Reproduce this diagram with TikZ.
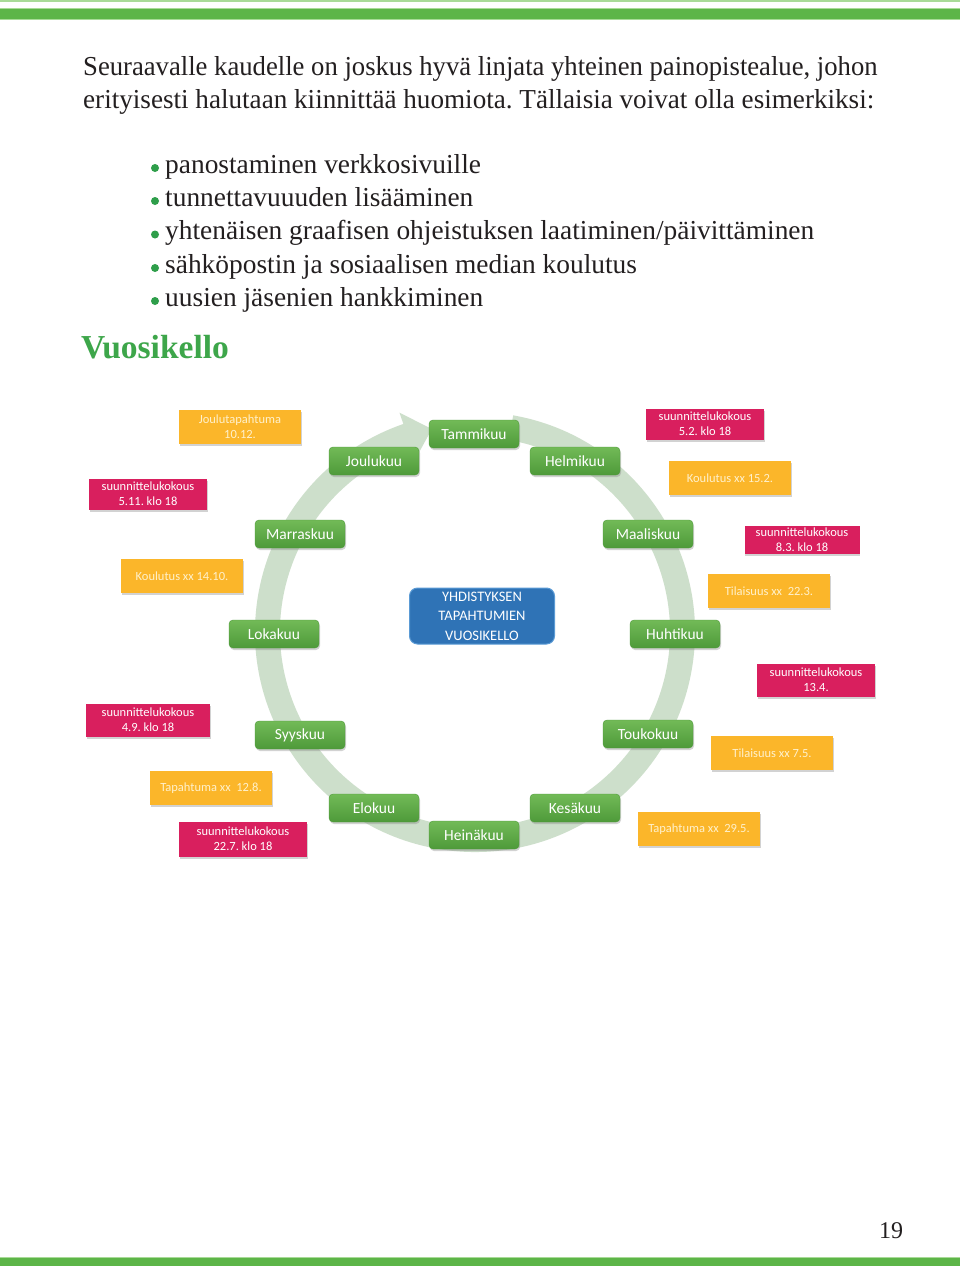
\documentclass[tikz,border=0pt]{standalone}
\usepackage{fontspec}
\setmainfont{Liberation Serif}
\newfontfamily\carl{Carlito}
\usetikzlibrary{calc,shadows}
\frenchspacing
\definecolor{bargreen}{HTML}{5DB548}
\definecolor{barlight}{HTML}{A9DB98}
\definecolor{titlegreen}{HTML}{3DA64A}
\definecolor{dotgreen}{HTML}{2E9E4A}
\definecolor{ringc}{HTML}{CDDFCB}
\definecolor{mgA}{HTML}{72BA57}
\definecolor{mgB}{HTML}{4E9A3A}
\definecolor{blueA}{HTML}{2F73B6}
\definecolor{blueB}{HTML}{5B9BD5}
\definecolor{pinkc}{HTML}{D91F5E}
\definecolor{orangec}{HTML}{FBB62A}
\definecolor{creamc}{HTML}{FFF1CC}
\definecolor{textc}{HTML}{231F20}
\begin{document}
\begin{tikzpicture}[x=1pt,y=1pt,
  bodytext/.style={anchor=base west, inner sep=0pt, text=textc, font=\fontsize{27.4}{33}\selectfont},
  bulletdot/.style={circle, fill=dotgreen, inner sep=0pt, minimum size=8pt},
  month/.style={rounded corners=4pt, top color=mgA, bottom color=mgB, draw=mgB,
    minimum width=90pt, minimum height=28pt, inner sep=0pt, text=white,
    font=\carl\fontsize{15.5}{18}\selectfont,
    drop shadow={shadow xshift=1pt, shadow yshift=-2pt, opacity=0.35}},
  event/.style={minimum width=122pt, minimum height=34pt, inner sep=0pt, align=center,
    font=\carl\fontsize{12.5}{15}\selectfont,
    drop shadow={shadow xshift=0.5pt, shadow yshift=-2pt, opacity=0.35}},
  pinkbox/.style={event, fill=pinkc, text=white, minimum width=118pt, minimum height=31pt},
  orangebox/.style={event, fill=orangec, text=creamc},
  corebox/.style={rounded corners=8pt, fill=blueA, draw=blueB, line width=1pt,
    minimum width=145pt, minimum height=56pt, inner sep=0pt, align=center, text=white,
    font=\carl\fontsize{14.5}{19.5}\selectfont}
]
\useasboundingbox (0,0) rectangle (960,-1266);
\fill[white] (0,0) rectangle (960,-1266);
% top and bottom bars
\fill[barlight] (0,0) rectangle (960,-1.8);
\fill[barlight] (0,-8) rectangle (960,-19.5);
\fill[bargreen] (0,-9) rectangle (960,-18.5);
\fill[barlight] (0,-1256.5) rectangle (960,-1266);
\fill[bargreen] (0,-1257.5) rectangle (960,-1266);

% paragraph
\node[bodytext] (p1) at (83,-75) {\scalebox{0.973}[1]{Seuraavalle kaudelle on joskus hyvä linjata yhteinen painopistealue, johon}};
\node[bodytext] (p2) at (83,-108.5) {\scalebox{0.99}[1]{erityisesti halutaan kiinnittää huomiota. Tällaisia voivat olla esimerkiksi:}};

% bullets
\node[bodytext] (l1) at (165,-173) {panostaminen verkkosivuille};
\node[bodytext] (l2) at (165,-206) {tunnettavuuuden lisääminen};
\node[bodytext] (l3) at (165,-239.5) {yhtenäisen graafisen ohjeistuksen laatiminen/päivittäminen};
\node[bodytext] (l4) at (165,-273) {sähköpostin ja sosiaalisen median koulutus};
\node[bodytext] (l5) at (165,-306) {uusien jäsenien hankkiminen};
\node[bulletdot] (d1) at (155,-168) {};
\node[bulletdot] (d2) at (155,-201) {};
\node[bulletdot] (d3) at (155,-234.5) {};
\node[bulletdot] (d4) at (155,-268) {};
\node[bulletdot] (d5) at (155,-301) {};

% title
\node[anchor=base west, inner sep=0pt, text=titlegreen, font=\bfseries\fontsize{33.5}{38}\selectfont] (title) at (81,-358) {Vuosikello};

% ring arrow
\coordinate (c) at (475,-632);
\fill[ringc] ($(c)+(80:220)$) arc[start angle=80, end angle=-251, radius=220]
  -- ($(c)+(109:232)$) -- ($(c)+(102:207.5)$) -- ($(c)+(109:183)$)
  -- ($(c)+(109:195)$) arc[start angle=-251, end angle=80, radius=195] -- cycle;

% months
\node[month] (m1) at (474,-434) {Tammikuu};
\node[month] (m2) at (575,-461) {Helmikuu};
\node[month] (m3) at (648,-534) {Maaliskuu};
\node[month] (m4) at (675,-634) {Huhtikuu};
\node[month] (m5) at (648,-734) {Toukokuu};
\node[month] (m6) at (575,-808) {Kesäkuu};
\node[month] (m7) at (474,-835) {Heinäkuu};
\node[month] (m8) at (374,-808) {Elokuu};
\node[month] (m9) at (300,-735) {Syyskuu};
\node[month] (m10) at (274,-634) {Lokakuu};
\node[month] (m11) at (300,-534) {Marraskuu};
\node[month] (m12) at (374,-461) {Joulukuu};

% centre
\node[corebox] (core) at (482,-616) {YHDISTYKSEN\\TAPAHTUMIEN\\VUOSIKELLO};

% events
\node[orangebox] (e1) at (240,-427) {Joulutapahtuma\\10.12.};
\node[pinkbox] (e2) at (148,-494) {suunnittelukokous\\5.11. klo 18};
\node[pinkbox] (e3) at (705,-424) {suunnittelukokous\\5.2. klo 18};
\node[orangebox] (e4) at (730,-478) {Koulutus xx 15.2.};
\node[pinkbox, minimum width=115pt, minimum height=28pt] (e5) at (802,-540) {suunnittelukokous\\8.3. klo 18};
\node[orangebox] (e6) at (182,-576) {Koulutus xx 14.10.};
\node[orangebox] (e7) at (769,-591) {Tilaisuus xx\ \ 22.3.};
\node[pinkbox, minimum height=33pt] (e8) at (816,-680) {suunnittelukokous\\13.4.};
\node[pinkbox, minimum width=124pt, minimum height=33pt] (e9) at (148,-720) {suunnittelukokous\\4.9. klo 18};
\node[orangebox] (e10) at (772,-753) {Tilaisuus xx 7.5.};
\node[orangebox] (e11) at (211,-788) {Tapahtuma xx\ \ 12.8.};
\node[pinkbox, minimum width=128pt, minimum height=35pt] (e12) at (243,-839) {suunnittelukokous\\22.7. klo 18};
\node[orangebox] (e13) at (699,-829) {Tapahtuma xx\ \ 29.5.};

% page number
\node[anchor=base west, inner sep=0pt, text=textc, font=\fontsize{24}{28}\selectfont] (pg) at (879,-1238) {19};
\end{tikzpicture}
\end{document}
